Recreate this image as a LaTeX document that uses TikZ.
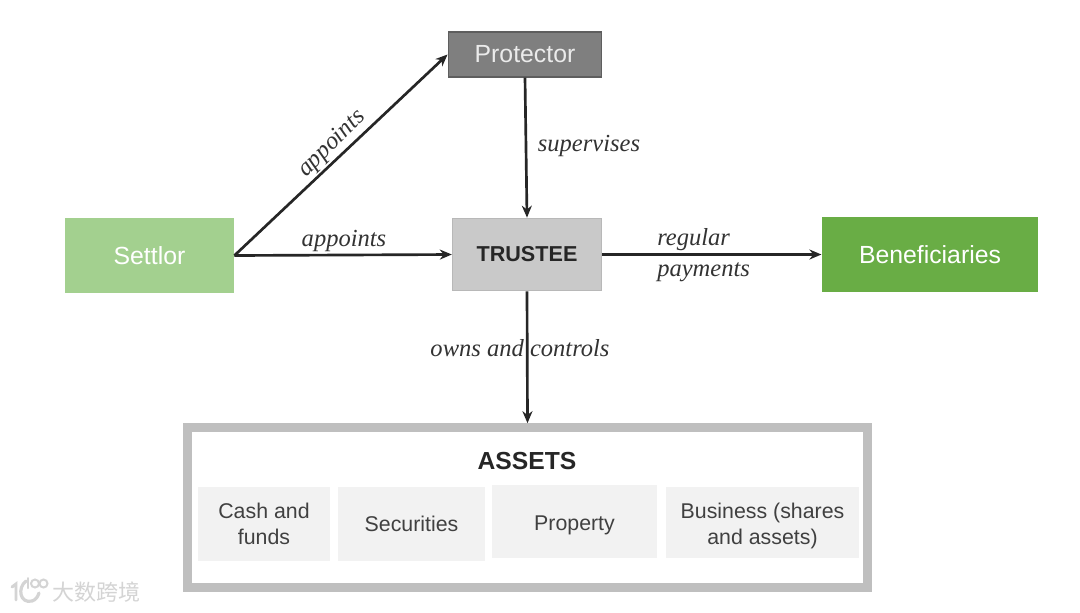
\documentclass[tikz,border=0pt]{standalone}
\usepackage{fontspec}
\setmainfont{Liberation Sans}
\newfontfamily\labelfont{Liberation Serif}
\newfontfamily\cjkfont{Noto Sans CJK SC}
\usetikzlibrary{arrows.meta}
\definecolor{protfill}{HTML}{7F7F7F}
\definecolor{protedge}{HTML}{5E5E5E}
\definecolor{trustfill}{HTML}{C9C9C9}
\definecolor{settfill}{HTML}{A3D08F}
\definecolor{benefill}{HTML}{69AD45}
\definecolor{assetedge}{HTML}{BFBFBF}
\definecolor{itemfill}{HTML}{F2F2F2}
\definecolor{inktext}{HTML}{404040}
\definecolor{wm}{HTML}{D4D4D4}
\tikzset{
  box/.style={inner sep=0pt,align=center,font=\fontsize{18.6}{22}\selectfont},
  arrowline/.style={draw=black!85,line width=2pt,-{Stealth[length=9pt,width=7.5pt]}},
  lbl/.style={font=\labelfont\itshape\fontsize{18.4}{23.2}\selectfont,text=black!80,inner sep=0pt,align=left},
  itembox/.style={box,fill=itemfill,text=inktext,font=\fontsize{16}{19.5}\selectfont},
}
\begin{document}
\begin{tikzpicture}[x=0.75pt,y=-0.75pt]
\useasboundingbox (0,0) rectangle (1080,612);
\fill[white] (0,0) rectangle (1080,612);
% assets frame
\node[draw=assetedge,line width=6.5pt,fill=white,minimum width=510pt,minimum height=120pt,inner sep=0pt] (assets) at (527.5,507.5) {};
\node[font=\bfseries\fontsize{18.5}{22}\selectfont,text=black!85,inner sep=0pt] (assetstitle) at (527,461) {ASSETS};
\node[itembox,minimum width=99pt,minimum height=55.5pt] (cash) at (264,524) {Cash and\\funds};
\node[itembox,minimum width=110pt,minimum height=55.5pt] (sec) at (411.5,524) {Securities};
\node[itembox,minimum width=124pt,minimum height=55pt] (prop) at (574.5,521.5) {\rule{0pt}{16.5pt}Property};
\node[itembox,minimum width=145pt,minimum height=53pt] (bus) at (762.5,522.5) {\rule{0pt}{16.5pt}Business (shares\\and assets)};
% main boxes
\node[box,draw=protedge,line width=1.2pt,fill=protfill,text=white!92!black,minimum width=115pt,minimum height=33.5pt] (protector) at (525,54.5) {Protector};
\node[box,draw=black!28,line width=0.8pt,fill=trustfill,text=black!85,font=\bfseries\fontsize{16.2}{20}\selectfont,minimum width=112pt,minimum height=54.5pt] (trustee) at (527,254.5) {TRUSTEE};
\node[box,fill=settfill,text=white,minimum width=127pt,minimum height=56.5pt] (settlor) at (149.5,255.5) {Settlor};
\node[box,fill=benefill,text=white,minimum width=162.5pt,minimum height=56.5pt] (benef) at (930,254.5) {Beneficiaries};
% connectors
\draw[arrowline] (settlor.east) -- (protector.west);
\draw[arrowline] (settlor.east) -- (trustee.west);
\draw[arrowline] (protector.south) -- (trustee.north);
\draw[arrowline] (trustee.east) -- (benef.west);
\draw[arrowline] (trustee.south) -- (assets.north);
% labels
\node[lbl,rotate=45] (l1) at (332,144) {appoints};
\node[lbl] (l2) at (344,241) {appoints};
\node[lbl] (l3) at (589,146) {supervises};
\node[lbl,anchor=west] (l4) at (657,255) {regular\\payments};
\node[lbl] (l5) at (520,348) {owns and controls};
% watermark
\draw[wm,line width=2.2pt,line cap=round] (12,587) -- (16,584) -- (16,600);
\draw[wm,line width=2.4pt,line cap=round] (26,581) .. controls (17,588) and (20,604) .. (32,601) .. controls (36,600) and (38,596) .. (39,593);
\draw[wm,line width=1.5pt,line cap=round] (28,578) -- (28,588);
\draw[wm,line width=1.5pt] (35,583.5) circle[radius=4];
\draw[wm,line width=1.5pt] (43.5,583.5) circle[radius=4];
\node[font=\cjkfont\fontsize{16.5}{18}\selectfont,text=wm,inner sep=0pt] (wmtext) at (96,592) {大数跨境};
\end{tikzpicture}
\end{document}
